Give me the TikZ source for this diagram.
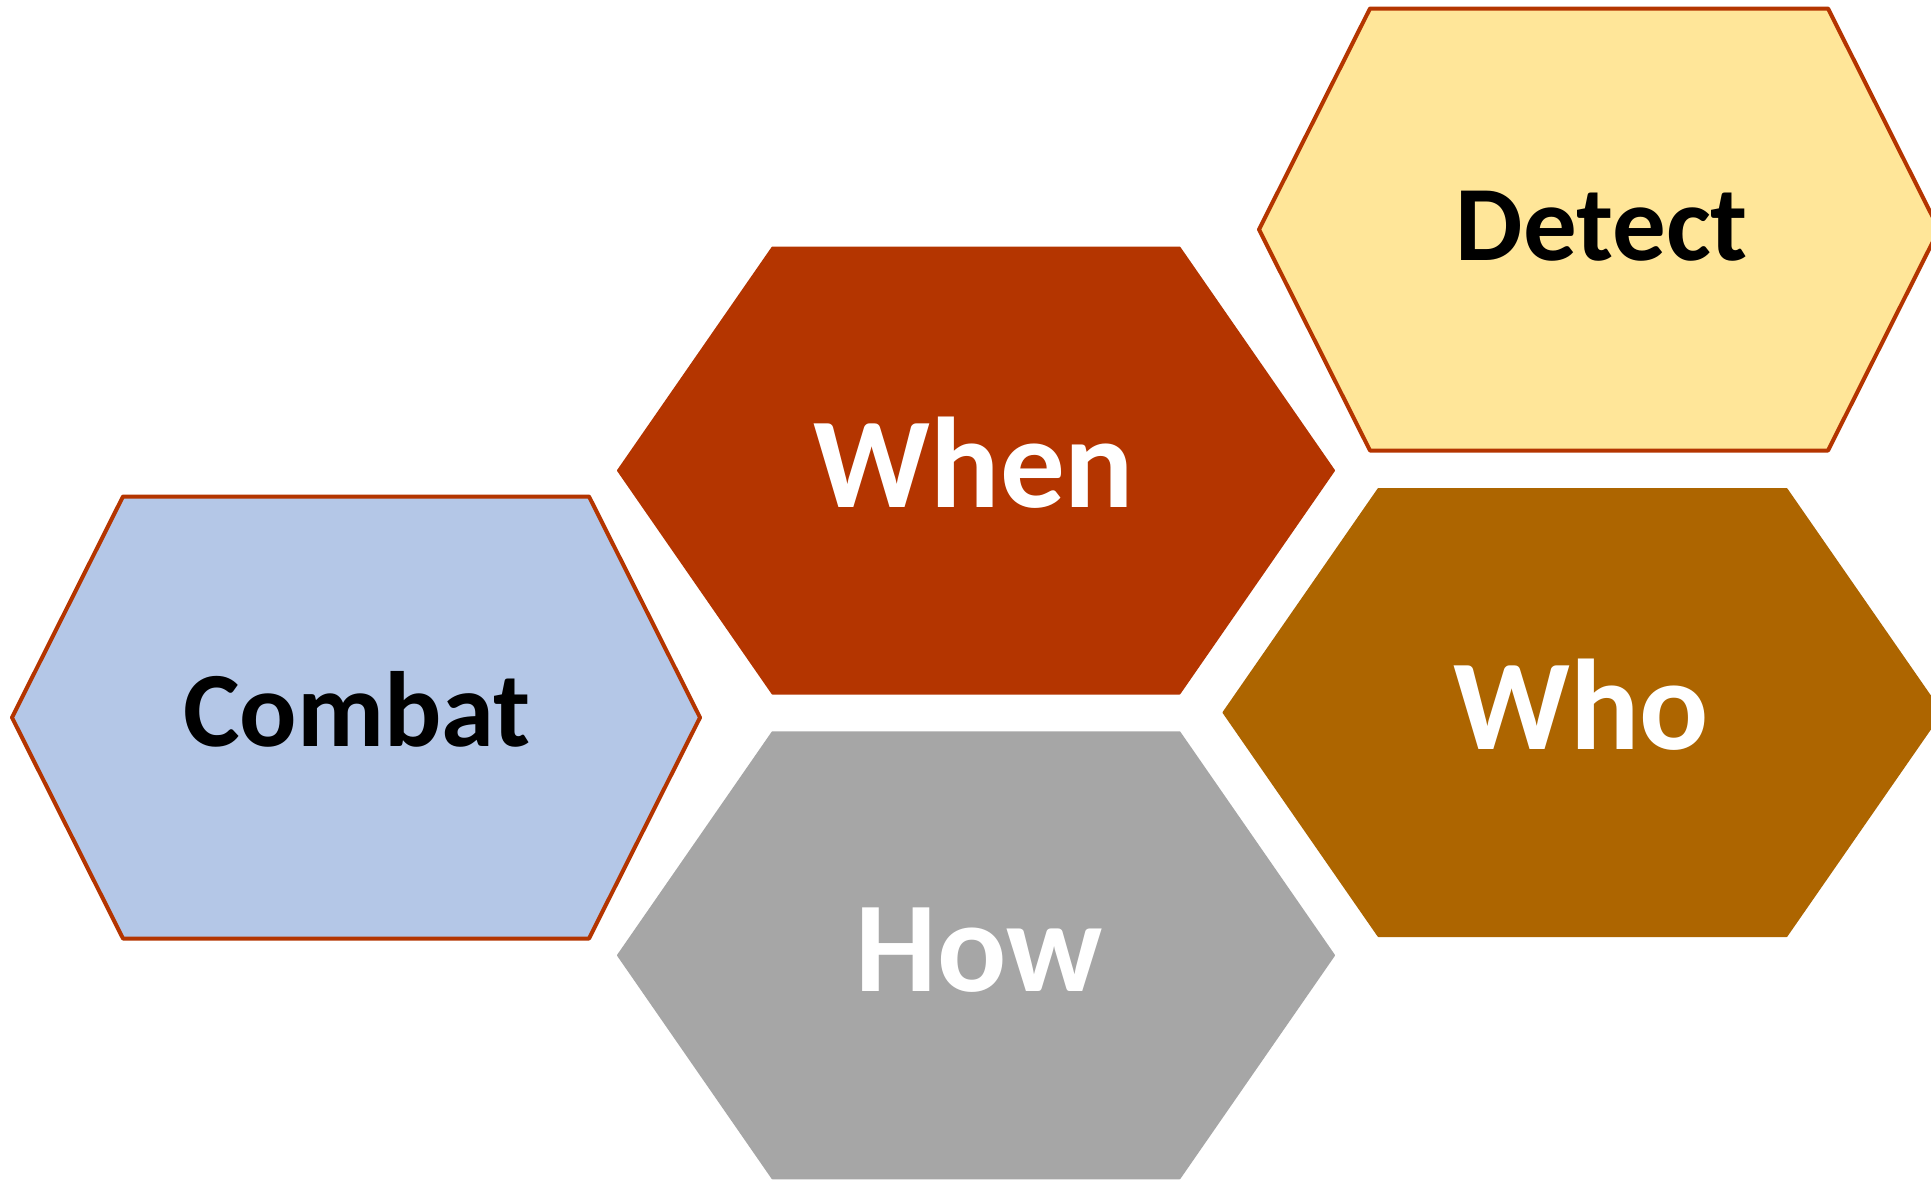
\documentclass[tikz,border=0pt]{standalone}
\usepackage{fontspec}
\setmainfont{Carlito}
\definecolor{rust}{RGB}{180,53,0}
\definecolor{whocol}{RGB}{173,101,0}
\definecolor{howcol}{RGB}{166,166,166}
\definecolor{combatcol}{RGB}{180,199,231}
\definecolor{detectcol}{RGB}{255,230,153}
\newcommand\myhex[6]{%
  \path[#1] (#2-#4,#3) -- (#2-#5,#3-#6) -- (#2+#5,#3-#6) -- (#2+#4,#3) -- (#2+#5,#3+#6) -- (#2-#5,#3+#6) -- cycle;}
\tikzset{
  solidhex/.style={fill=#1, draw=#1, line width=1pt, line join=round},
  outlinehex/.style={fill=#1, draw=rust, line width=2pt, line join=round},
  bigtext/.style={inner sep=0pt, anchor=base, font=\bfseries\fontsize{64.5pt}{70pt}\selectfont, text=white},
  smalltext/.style={inner sep=0pt, anchor=base, font=\bfseries\fontsize{53.5pt}{60pt}\selectfont, text=black}
}
\begin{document}
\begin{tikzpicture}[x=0.5pt,y=-0.5pt]
\useasboundingbox (0,0) rectangle (1931,1180);
\fill[white] (0,0) rectangle (1931,1180);
% hexagons
\myhex{solidhex=rust}{976}{470.5}{358}{203.5}{223}
\myhex{solidhex=howcol}{976}{955.3}{358}{203.5}{223}
\myhex{solidhex=whocol}{1582.5}{712.5}{359}{204}{223.5}
\myhex{outlinehex=combatcol}{356}{717.5}{344}{233}{221}
\myhex{outlinehex=detectcol}{1599}{229.5}{340}{229}{221}
% labels
\node[bigtext] (when) at (974,507.7) {When};
\node[bigtext] (how) at (979,991.7) {How};
\node[bigtext] (who) at (1581,749.3) {Who};
\node[smalltext] (combat) at (357,746.7) {Combat};
\node[smalltext] (detect) at (1602,260) {Detect};
\end{tikzpicture}
\end{document}
